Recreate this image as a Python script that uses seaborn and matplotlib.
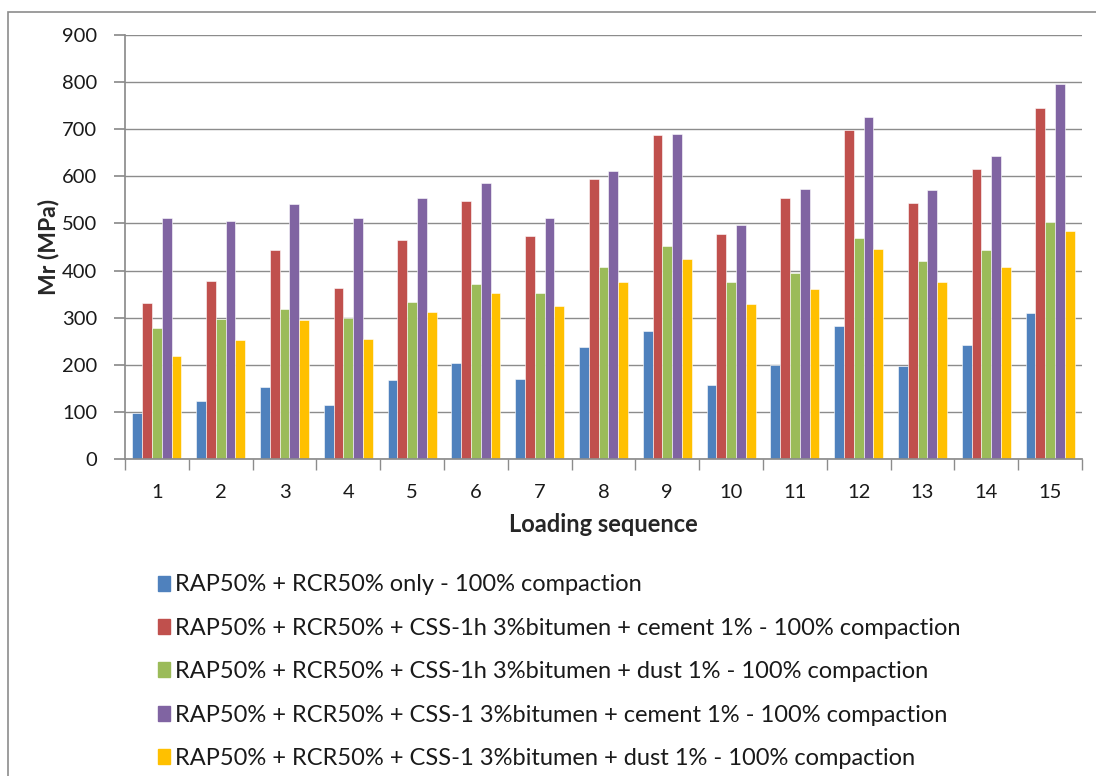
import matplotlib
matplotlib.use("Agg")
import matplotlib.pyplot as plt
import matplotlib.patches as mpatches
import seaborn as sns
import pandas as pd

# Loading sequence numbers
sequences = [str(i) for i in range(1, 16)]

# Resilient modulus Mr (MPa) for each mix
rap_rcr_only = [97, 123, 152, 115, 167, 203, 170, 237, 271, 157, 199, 283, 197, 241, 309]
css1h_cement = [332, 378, 443, 363, 464, 548, 473, 595, 687, 478, 553, 699, 544, 616, 744]
css1h_dust = [279, 297, 319, 300, 334, 372, 353, 408, 452, 376, 395, 470, 420, 443, 504]
css1_cement = [512, 506, 541, 512, 555, 586, 512, 612, 689, 496, 574, 725, 572, 644, 795]
css1_dust = [218, 252, 295, 254, 313, 353, 324, 376, 424, 330, 361, 445, 375, 408, 483]

series_names = [
    "RAP50% + RCR50% only - 100% compaction",
    "RAP50% + RCR50% + CSS-1h 3%bitumen + cement 1% - 100% compaction",
    "RAP50% + RCR50% + CSS-1h 3%bitumen + dust 1% - 100% compaction",
    "RAP50% + RCR50% + CSS-1 3%bitumen + cement 1% - 100% compaction",
    "RAP50% + RCR50% + CSS-1 3%bitumen + dust 1% - 100% compaction",
]
series_values = [rap_rcr_only, css1h_cement, css1h_dust, css1_cement, css1_dust]
colors = ["#4F81BD", "#C0504D", "#9BBB59", "#8064A2", "#FFC000"]

rows = []
for name, vals in zip(series_names, series_values):
    for seq, v in zip(sequences, vals):
        rows.append({"seq": seq, "Mr": v, "mix": name})
df = pd.DataFrame(rows)

sns.set_theme(style="white")
plt.rcParams["font.family"] = ["Lato", "DejaVu Sans"]

fig = plt.figure(figsize=(10.96, 7.76), dpi=100)
ax = fig.add_axes([125 / 1096, 1 - 459 / 776, (1082 - 125) / 1096, (459 - 35) / 776])

sns.barplot(data=df, x="seq", y="Mr", hue="mix", hue_order=series_names,
            order=sequences, palette=colors, width=0.77, gap=0,
            edgecolor="#ffffff", linewidth=0.4, saturation=1, ax=ax, legend=False)

ax.set_ylim(0, 900)
ax.set_xlim(-0.5, 14.5)
ax.set_yticks(range(0, 901, 100))
ax.yaxis.grid(True, color="#8c8c8c", linewidth=1.0)
ax.set_axisbelow(True)
for side in ["top", "right"]:
    ax.spines[side].set_visible(False)
ax.spines["left"].set_color("#8c8c8c")
ax.spines["bottom"].set_color("#8c8c8c")

ax.tick_params(axis="y", which="major", length=8, color="#8c8c8c", labelsize=14.5,
               pad=12, left=True, labelcolor="#1a1a1a")
ax.tick_params(axis="x", which="major", length=0, labelsize=14.5, pad=18,
               labelcolor="#1a1a1a")
# category separator ticks
ax.set_xticks([i + 0.5 for i in range(-1, 15)], minor=True)
ax.tick_params(axis="x", which="minor", length=8, color="#8c8c8c", bottom=True)

ax.set_xlabel("Loading sequence", fontsize=17, fontweight="bold", labelpad=9)
ax.set_ylabel("Mr (MPa)", fontsize=16.5, fontweight="bold", labelpad=2)

handles = [mpatches.Patch(facecolor=c, edgecolor=c) for c in colors]
fig.legend(handles, series_names, loc="upper left",
           bbox_to_anchor=(149 / 1096, 1 - 565 / 776), frameon=False,
           fontsize=17, handlelength=0.5, handleheight=0.6, handletextpad=0.2,
           labelspacing=0.95, borderaxespad=0, labelcolor="#1a1a1a")

# outer chart frame
frame = mpatches.Rectangle((8 / 1096, -0.1), 1.2, 1 - 12 / 776 + 0.1,
                           transform=fig.transFigure, fill=False,
                           edgecolor="#8c8c8c", linewidth=1.2)
fig.patches.append(frame)

fig.savefig("out.png", dpi=100)
